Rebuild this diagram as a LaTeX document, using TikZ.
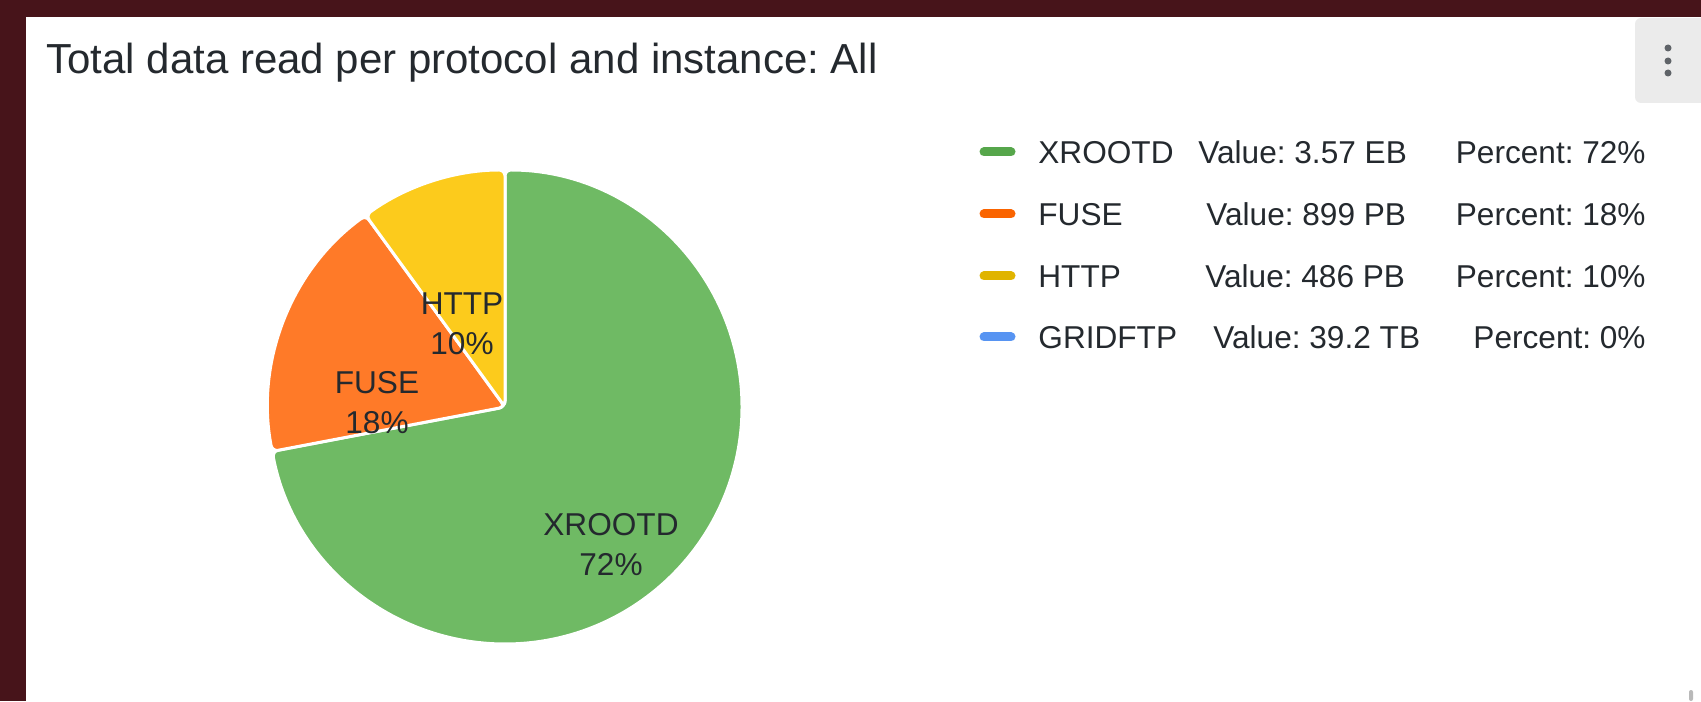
\documentclass[tikz,border=0pt]{standalone}
\usepackage{fontspec}
\setmainfont{Liberation Sans}
\usetikzlibrary{positioning, calc}
\frenchspacing
\definecolor{bgcol}{HTML}{47141A}
\definecolor{txtcol}{HTML}{24292E}
\definecolor{btncol}{HTML}{EBEBEB}
\definecolor{dotcol}{HTML}{5F6368}
\definecolor{xrootdcol}{HTML}{6FBA64}
\definecolor{fusecol}{HTML}{FF7A28}
\definecolor{httpcol}{HTML}{FCCB1C}
\definecolor{xrootdleg}{HTML}{56A64B}
\definecolor{fuseleg}{HTML}{FA6400}
\definecolor{httpleg}{HTML}{E0B400}
\definecolor{gridleg}{HTML}{5794F2}

\begin{document}
\begin{tikzpicture}[x=0.5pt, y=0.5pt,
  slice/.style={draw=white, line width=1.5pt, line join=round, rounded corners=3pt},
  pielabel/.style={font=\fontsize{15.8}{20}\selectfont, text=txtcol, align=center, inner sep=0pt},
  legtext/.style={font=\fontsize{15.8}{19}\selectfont, text=txtcol, inner sep=0pt},
  legdash/.style={line width=4.5pt, line cap=round},
  title/.style={font=\fontsize{21}{25}\selectfont, text=txtcol, inner sep=0pt, anchor=base west},
]
\useasboundingbox (0,0) rectangle (1701,701);

% =================== Panel ===================
\fill[bgcol] (0,0) rectangle (1701,701);
\fill[white] (26,0) rectangle (1701,684);
\node[title] (title) at (46,627) {Total data read per protocol and instance: All};

% menu button
\fill[btncol, rounded corners=3pt] (1635,598) rectangle (1706,683);
\foreach \yy in {653,640,628} \fill[dotcol] (1668,\yy) circle (3.5);
% scrollbar stub
\fill[gray!55, rounded corners=1pt] (1689,0) rectangle (1693,11);

% =================== Pie ===================
\coordinate (c) at (505,294);
\fill[slice, fill=xrootdcol] (c) -- ($(c)+(90:237)$) arc[start angle=90, end angle=-169.2, radius=237] -- cycle;
\fill[slice, fill=fusecol] (c) -- ($(c)+(190.8:237)$) arc[start angle=190.8, end angle=126, radius=237] -- cycle;
\fill[slice, fill=httpcol] (c) -- ($(c)+(126:237)$) arc[start angle=126, end angle=90, radius=237] -- cycle;

\node[pielabel] (lhttp) at (462,377) {HTTP\\10\%};
\node[pielabel] (lfuse) at (377,298) {FUSE\\18\%};
\node[pielabel] (lxrootd) at (611,156) {XROOTD\\72\%};

% =================== Legend ===================
\draw[legdash, xrootdleg] (984,549) -- (1011,549);
\draw[legdash, fuseleg] (984,487) -- (1011,487);
\draw[legdash, httpleg] (984,425) -- (1011,425);
\draw[legdash, gridleg] (984,364) -- (1011,364);

\node[legtext, anchor=base west] (nx) at (1038,537.5) {XROOTD};
\node[legtext, anchor=base west] (vx) at (1198,537.5) {Value: 3.57 EB};
\node[legtext, anchor=base east] (px) at (1646,537.5) {Percent: 72\%};

\node[legtext, anchor=base west] (nf) at (1038,475.5) {FUSE};
\node[legtext, anchor=base west] (vf) at (1206,475.5) {Value: 899 PB};
\node[legtext, anchor=base east] (pf) at (1646,475.5) {Percent: 18\%};

\node[legtext, anchor=base west] (nh) at (1038,413.5) {HTTP};
\node[legtext, anchor=base west] (vh) at (1205,413.5) {Value: 486 PB};
\node[legtext, anchor=base east] (ph) at (1646,413.5) {Percent: 10\%};

\node[legtext, anchor=base west] (ng) at (1038,352.5) {GRIDFTP};
\node[legtext, anchor=base west] (vg) at (1213,352.5) {Value: 39.2 TB};
\node[legtext, anchor=base east] (pg) at (1646,352.5) {Percent: 0\%};

\end{tikzpicture}
\end{document}
